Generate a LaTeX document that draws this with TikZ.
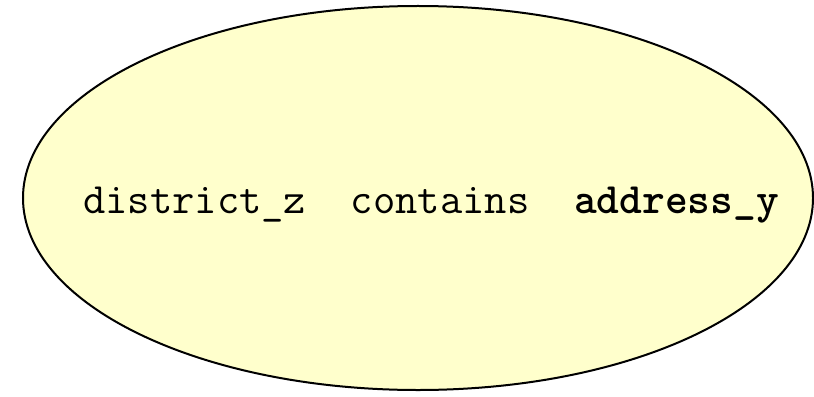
\documentclass[tikz,border=0pt]{standalone}
\usepackage{fontspec}
\usetikzlibrary{shapes.geometric}
\definecolor{noteyellow}{HTML}{FFFFCC}

\begin{document}
\begin{tikzpicture}[x=1bp,y=1bp,
	bubble/.style={ellipse,draw=black,line width=2bp,fill=noteyellow,inner sep=0pt,
		minimum width=790bp,minimum height=384bp},
	label/.style={font=\ttfamily\fontsize{43.5}{46}\selectfont,inner sep=0pt,anchor=base}]
	\useasboundingbox (0,0) rectangle (814,396);
	\node[bubble] (blob) at (418,198) {};
	\node[label] (rel) at (431,183) {district\_z\ \ contains\ \ \textbf{address\_y}};
\end{tikzpicture}
\end{document}
